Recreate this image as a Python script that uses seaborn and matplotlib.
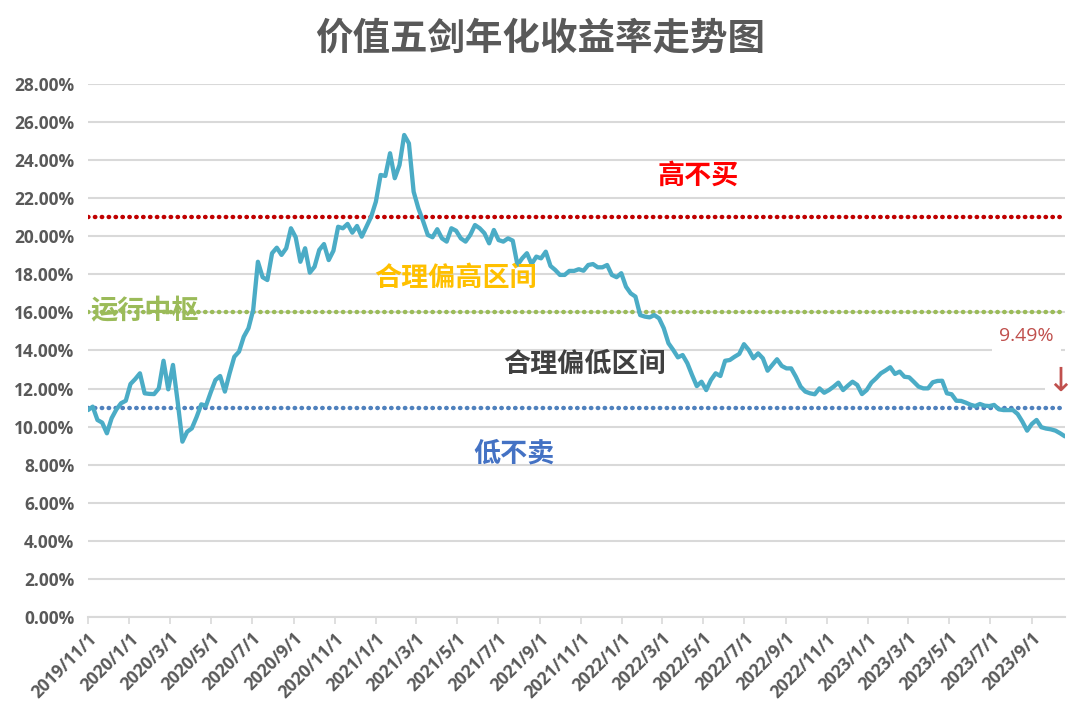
import matplotlib
matplotlib.use("Agg")
import matplotlib.pyplot as plt
import seaborn as sns
import pandas as pd

# ---------------- data ----------------
start_date = "2019-11-01"   # weekly observations (Fridays)
yields = [
    10.87, 11.05, 10.35, 10.21, 9.65, 10.44, 10.90, 11.23, 11.36, 12.24,
    12.50, 12.80, 11.75, 11.72, 11.71, 12.01, 13.46, 11.96, 13.24, 11.30,
    9.21, 9.73, 9.91, 10.50, 11.17, 11.10, 11.80, 12.45, 12.66, 11.84,
    12.80, 13.67, 13.94, 14.72, 15.17, 16.13, 18.66, 17.85, 17.70, 19.11,
    19.40, 19.02, 19.37, 20.42, 19.95, 18.66, 19.37, 18.09, 18.40, 19.28,
    19.59, 18.75, 19.24, 20.50, 20.42, 20.65, 20.19, 20.54, 19.98, 20.50,
    21.03, 21.82, 23.22, 23.17, 24.36, 23.05, 23.74, 25.32, 24.88, 22.34,
    21.47, 20.80, 20.07, 19.95, 20.37, 19.89, 19.72, 20.42, 20.29, 19.89,
    19.72, 20.07, 20.59, 20.42, 20.16, 19.63, 20.33, 19.80, 19.72, 19.89,
    19.77, 18.49, 18.84, 19.11, 18.54, 18.93, 18.84, 19.19, 18.44, 18.23,
    17.97, 17.97, 18.18, 18.18, 18.27, 18.19, 18.49, 18.54, 18.37, 18.37,
    18.49, 17.97, 17.85, 18.06, 17.35, 17.00, 16.83, 15.86, 15.78, 15.74,
    15.86, 15.69, 15.17, 14.38, 14.03, 13.64, 13.76, 13.33, 12.71, 12.13,
    12.36, 11.92, 12.45, 12.80, 12.66, 13.46, 13.50, 13.67, 13.82, 14.33,
    14.03, 13.59, 13.85, 13.59, 12.94, 13.24, 13.54, 13.19, 13.06, 13.06,
    12.62, 12.10, 11.84, 11.75, 11.70, 12.01, 11.78, 11.92, 12.10, 12.31,
    11.92, 12.15, 12.36, 12.19, 11.71, 11.92, 12.31, 12.54, 12.80, 12.95,
    13.12, 12.77, 12.89, 12.62, 12.59, 12.35, 12.10, 12.01, 12.01, 12.33,
    12.40, 12.41, 11.75, 11.70, 11.36, 11.35, 11.26, 11.15, 11.08, 11.19,
    11.10, 11.08, 11.14, 10.91, 10.87, 10.87, 10.87, 10.66, 10.26, 9.79,
    10.14, 10.35, 9.97, 9.90, 9.86, 9.79, 9.65, 9.49,
]
dates = pd.date_range(start_date, periods=len(yields), freq="7D")

level_values = [21.0, 16.0, 11.0]          # 高不买 / 运行中枢 / 低不卖
level_colors = ["#C00000", "#9BBB59", "#4F81BD"]

zone_labels = ["高不买", "合理偏高区间", "运行中枢", "合理偏低区间", "低不卖"]
zone_dates = ["2022-04-24", "2021-04-30", "2019-11-05", "2021-11-06", "2021-07-25"]
zone_yvals = [23.2, 17.8, 16.07, 13.3, 8.6]
zone_colors = ["#FF0000", "#FFC000", "#9BBB59", "#404040", "#4472C4"]

last_label = "9.49%"
y_ticks = list(range(0, 29, 2))
x_ticks = pd.date_range("2019-11-01", "2023-09-01", freq="2MS")
title = "价值五剑年化收益率走势图"

# ---------------- style ----------------
sns.set_theme(style="white")
plt.rcParams["font.family"] = ["Open Sans", "Noto Sans CJK SC", "DejaVu Sans"]
cjk = ["Noto Sans CJK SC", "DejaVu Sans"]

fig = plt.figure(figsize=(10.8, 7.24), dpi=100)
ax = fig.add_axes([0.0815, 0.1478, 0.9045, 0.7362])

df = pd.DataFrame({"date": dates, "y": yields})

# reference levels
for v, c in zip(level_values, level_colors):
    ax.axhline(v, color=c, lw=3.2, ls=(0, (0.1, 1.45)), dash_capstyle="round", zorder=2)

sns.lineplot(data=df, x="date", y="y", ax=ax, color="#4BACC6", lw=3.1, zorder=3)

ax.set_xlim(dates[0], dates[-1])
ax.set_ylim(0, 28)
ax.set_yticks(y_ticks)
ax.set_yticklabels([f"{t:.2f}%" for t in y_ticks])
ax.set_xticks(x_ticks)
ax.set_xticklabels([f"{d.year}/{d.month}/{d.day}" for d in x_ticks],
                   rotation=45, ha="right", rotation_mode="anchor")
ax.set_xlabel("")
ax.set_ylabel("")

ax.grid(axis="y", color="#D9D9D9", lw=1.5, zorder=0)
ax.grid(axis="x", visible=False)
for s in ["top", "right", "left"]:
    ax.spines[s].set_visible(False)
ax.spines["bottom"].set_color("#D9D9D9")
ax.spines["bottom"].set_linewidth(1.5)
ax.tick_params(axis="y", length=0, pad=10, labelsize=12.5, labelcolor="#595959")
ax.tick_params(axis="x", length=5, width=1.2, color="#D9D9D9", pad=4,
               labelsize=12.5, labelcolor="#595959", direction="out", bottom=True)
for lab in ax.get_yticklabels() + ax.get_xticklabels():
    lab.set_fontweight("bold")

# zone texts
for lab, d, yv, c in zip(zone_labels, zone_dates, zone_yvals, zone_colors):
    ha = "left" if lab == "运行中枢" else "center"
    ax.text(pd.Timestamp(d), yv, lab, color=c, fontsize=19.5, fontweight="bold",
            family=cjk, ha=ha, va="center", zorder=5)

# last value label and arrow
ax.text(1.0 - 0.039, 14.75, last_label, transform=ax.get_yaxis_transform(),
        color="#C0504D", fontsize=14, ha="center", va="center",
        bbox=dict(facecolor="white", edgecolor="none", pad=5), zorder=4)
ax.text(0.995, 12.4, "↓", transform=ax.get_yaxis_transform(),
        color="#C0504D", fontsize=24, ha="center", va="center",
        family=["DejaVu Sans"],
        bbox=dict(facecolor="white", edgecolor="none", pad=1), zorder=4)

fig.text(0.5, 0.948, title, ha="center", va="center", fontsize=27,
         fontweight="bold", color="#595959", family=cjk)

fig.savefig("out.png", dpi=100, facecolor="white")
